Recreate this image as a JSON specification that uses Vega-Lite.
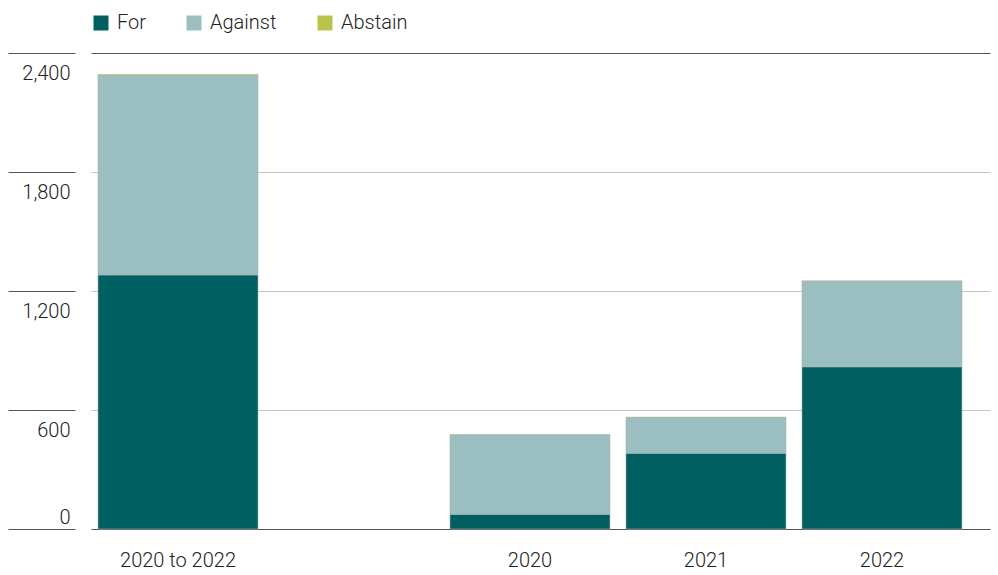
{
  "$schema": "https://vega.github.io/schema/vega-lite/v6.json",
  "autosize": {"type": "none"},
  "width": 899,
  "height": 476,
  "padding": {"left": 91, "top": 53, "right": 8, "bottom": 46},
  "background": "white",
  "config": {
    "view": {"stroke": null},
    "font": "Roboto",
    "axis": {"labelFont": "Roboto", "labelFontSize": 20, "labelColor": "#222222", "labelFontWeight": 300},
    "legend": {"labelFont": "Roboto", "labelFontSize": 20, "labelColor": "#222222", "labelFontWeight": 300}
  },
  "data": {
    "values": [
      {"period": "2020 to 2022", "vote": "For", "count": 1281},
      {"period": "2020 to 2022", "vote": "Against", "count": 1005},
      {"period": "2020 to 2022", "vote": "Abstain", "count": 6},
      {"period": "2020", "vote": "For", "count": 74},
      {"period": "2020", "vote": "Against", "count": 400},
      {"period": "2020", "vote": "Abstain", "count": 1},
      {"period": "2021", "vote": "For", "count": 382},
      {"period": "2021", "vote": "Against", "count": 179},
      {"period": "2021", "vote": "Abstain", "count": 3},
      {"period": "2022", "vote": "For", "count": 818},
      {"period": "2022", "vote": "Against", "count": 431},
      {"period": "2022", "vote": "Abstain", "count": 2}
    ]
  },
  "transform": [
    {"calculate": "indexof(['For','Against','Abstain'], datum.vote)", "as": "stackOrder"}
  ],
  "mark": {"type": "bar", "stroke": "#a8b4b4", "strokeWidth": 0.6},
  "encoding": {
    "x": {
      "field": "period",
      "type": "nominal",
      "title": null,
      "scale": {
        "domain": ["2020 to 2022", " ", "2020", "2021", "2022"],
        "paddingInner": 0.0909,
        "paddingOuter": 0.0995,
        "align": 0.2
      },
      "axis": {
        "domain": false,
        "ticks": false,
        "labelAngle": 0,
        "labelPadding": 21,
        "labelBaseline": "top"
      }
    },
    "y": {
      "field": "count",
      "type": "quantitative",
      "stack": "zero",
      "title": null,
      "scale": {"domain": [0, 2400], "nice": false},
      "axis": {
        "values": [0, 600, 1200, 1800, 2400],
        "format": ",.0f",
        "offset": 16,
        "domain": false,
        "tickSize": 67,
        "tickColor": "#555555",
        "tickWidth": 1.2,
        "labelAlign": "right",
        "labelBaseline": "middle",
        "labelPadding": -62,
        "labelOffset": {"condition": {"test": "datum.value == 0", "value": -12}, "value": 20},
        "grid": true,
        "gridWidth": 1.2,
        "gridColor": {"condition": {"test": "datum.value == 0 || datum.value == 2400", "value": "#555555"}, "value": "#c4c4c4"}
      }
    },
    "color": {
      "field": "vote",
      "type": "nominal",
      "scale": {"domain": ["For", "Against", "Abstain"], "range": ["#005f61", "#9bbfc0", "#b8c34a"]},
      "legend": {
        "title": null,
        "orient": "none",
        "legendX": 0,
        "legendY": -40,
        "direction": "horizontal",
        "symbolType": "square",
        "symbolSize": 225,
        "symbolStrokeWidth": 0,
        "labelOffset": 6,
        "columnPadding": 38
      }
    },
    "order": {"field": "stackOrder", "type": "quantitative"}
  }
}
